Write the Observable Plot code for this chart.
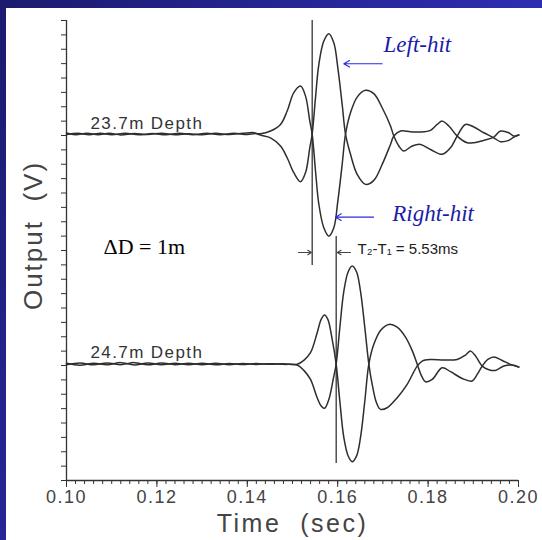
<!DOCTYPE html>
<html><head><meta charset="utf-8">
<script src="https://cdn.jsdelivr.net/npm/d3@7"></script>
<script src="https://cdn.jsdelivr.net/npm/@observablehq/plot@0.6"></script>
<style>
html,body{margin:0;padding:0;}
body{width:542px;height:540px;background:linear-gradient(120deg,#1b1b6e 0%,#2828a0 45%,#3838d4 100%);position:relative;overflow:hidden;}
#panel{position:absolute;left:6px;top:8px;width:536px;height:532px;background:#fff;}
</style></head><body><div id="panel"></div>
<script>
// ---- data (time in s, amplitude about each trace's baseline) ----
const traceNames = ["23.7m Depth", "24.7m Depth"];
const traceBaseline = [24.1, 8.1];

const upperLeftHit = [[0.1000,0.08],[0.1020,-0.05],[0.1045,0.06],[0.1070,-0.04],[0.1095,0.05],[0.1120,-0.06],[0.1150,0.04],[0.1180,-0.03],[0.1210,0.06],[0.1240,-0.04],[0.1270,0.03],[0.1300,-0.05],[0.1330,0.05],[0.1360,-0.03],[0.1390,0.05],[0.1415,0.1],
 [0.14292,-0.07],[0.14513,-0.26],[0.14735,-0.83],[0.14882,-1.65],[0.15029,-2.69],[0.15177,-3.32],[0.15288,-2.69],[0.15383,-0.95],[0.15435,0],[0.15509,2.53],[0.15583,4.85],[0.15693,6.47],[0.15804,6.98],[0.15914,6.35],[0.16003,4.61],[0.16099,2.06],[0.16173,0],[0.16283,-1.41],[0.16431,-2.81],[0.16615,-3.50],[0.16799,-3.22],[0.16984,-2.11],[0.17168,-0.72],[0.17242,-0.14],[0.17389,0.21],[0.17611,0.16],[0.17832,0.14],[0.18053,0.26],[0.18201,0.67],[0.18311,0.90],[0.18459,0.56],[0.18643,-0.14],[0.18864,-0.60],[0.19012,-0.60],[0.19233,-0.44],[0.19454,-0.21],[0.19602,0.21],[0.19786,0.09],[0.19897,-0.14],[0.20007,-0.07]];
const upperRightHit = [[0.1000,-0.04],[0.1025,0.06],[0.1050,-0.05],[0.1075,0.05],[0.1100,-0.04],[0.1130,0.06],[0.1160,-0.05],[0.1190,0.04],[0.1220,-0.05],[0.1250,0.05],[0.1280,-0.04],[0.1310,0.05],[0.1340,-0.04],[0.1370,0.05],[0.1400,-0.03],[0.1415,0.03],
 [0.14292,0.02],[0.14513,0.21],[0.14735,0.67],[0.14882,1.60],[0.15029,2.88],[0.15177,3.34],[0.15288,2.64],[0.15383,0.90],[0.15435,0],[0.15509,-2.57],[0.15583,-4.89],[0.15693,-6.52],[0.15804,-7.10],[0.15914,-6.52],[0.16003,-4.66],[0.16099,-2.11],[0.16173,0],[0.16283,1.48],[0.16431,2.57],[0.16615,3.04],[0.16799,2.81],[0.16984,1.83],[0.17168,0.56],[0.17242,-0.14],[0.17353,-0.83],[0.17463,-1.18],[0.17648,-0.83],[0.17832,-0.72],[0.18053,-1.07],[0.18311,-1.41],[0.18496,-0.95],[0.18643,-0.14],[0.18827,0.67],[0.19012,0.49],[0.19233,0.09],[0.19454,-0.26],[0.19602,-0.53],[0.19786,-0.44],[0.19897,-0.21],[0.20007,-0.07]];
const lowerA = [[0.1000,0.05],[0.1030,-0.08],[0.1060,0.06],[0.1090,-0.05],[0.1120,0.1],[0.1150,-0.06],[0.1180,0.08],[0.1210,-0.05],[0.1240,0.06],[0.1270,-0.04],[0.1300,0.05],[0.1330,-0.05],[0.1360,0.04],[0.1390,-0.03],[0.1420,0.04],[0.1450,-0.02],[0.1480,0.02],
 [0.15103,-0.02],[0.15251,0.26],[0.15398,0.79],[0.15546,2.18],[0.15634,3.11],[0.15708,3.41],[0.15782,3.11],[0.15878,1.72],[0.15966,0],[0.16047,-2.57],[0.16136,-5.12],[0.16232,-6.40],[0.16320,-6.79],[0.16416,-6.40],[0.16504,-5.12],[0.16600,-2.57],[0.16689,0],[0.16799,1.37],[0.16947,2.34],[0.17131,2.76],[0.17316,2.57],[0.17500,1.88],[0.17647,0.95],[0.17758,0],[0.17847,-0.77],[0.17943,-1.23],[0.18090,-1.07],[0.18311,-0.26],[0.18496,-0.53],[0.18754,-1.00],[0.18975,-1.18],[0.19086,-0.72],[0.19197,-0.14],[0.19322,0.32],[0.19454,0.49],[0.19639,0.25],[0.19823,-0.02],[0.20007,-0.21]];
const lowerB = [[0.1000,-0.05],[0.1030,0.07],[0.1060,-0.05],[0.1090,0.08],[0.1120,-0.04],[0.1150,0.1],[0.1180,-0.05],[0.1210,0.07],[0.1240,-0.04],[0.1270,0.05],[0.1300,-0.04],[0.1330,0.06],[0.1360,-0.04],[0.1390,0.04],[0.1420,-0.03],[0.1450,0.03],[0.1480,-0.02],
 [0.15103,-0.07],[0.15251,-0.44],[0.15398,-1.07],[0.15546,-2.34],[0.15634,-2.92],[0.15708,-3.08],[0.15804,-2.46],[0.15900,-1.07],[0.15966,0],[0.16047,2.53],[0.16136,5.08],[0.16232,6.42],[0.16320,6.82],[0.16416,6.42],[0.16504,5.08],[0.16600,2.53],[0.16689,0],[0.16763,-1.41],[0.16858,-2.69],[0.16947,-3.15],[0.17094,-3.04],[0.17316,-2.34],[0.17537,-1.41],[0.17758,-0.14],[0.17869,0.21],[0.18053,0.32],[0.18348,0.28],[0.18643,0.32],[0.18828,0.63],[0.18938,0.90],[0.19049,0.56],[0.19197,-0.14],[0.19344,-0.39],[0.19491,-0.44],[0.19676,-0.14],[0.19860,-0.07],[0.20007,-0.21]];

const xMajorTicks = [0.10, 0.12, 0.14, 0.16, 0.18, 0.20];
const xTickLabels = ["0.10", "0.12", "0.14", "0.16", "0.18", "0.20"];
const yTickValues = d3.range(0, 33);
const xMinorTicks = d3.range(0, 51).map(i => 0.10 + i * 0.002);

// markers: T1 / T2 arrival lines
const arrivalLines = [{t: 0.15436, y1: 14.96, y2: 32}, {t: 0.15967, y1: 1.18, y2: 16.97}];
const gapArrows = [{x1: 0.15133, x2: 0.15420, y: 15.86}, {x1: 0.16283, x2: 0.15990, y: 15.86}];
const hitArrows = [{x1: 0.16984, x2: 0.16135, y: 28.99}, {x1: 0.16792, x2: 0.15951, y: 18.32}];
const hitLabels = [{t: 0.17013, y: 30.33, text: "Left-hit"}, {t: 0.17206, y: 18.57, text: "Right-hit"}];
const depthLabels = [{t: 0.10531, y: 24.8, text: traceNames[0]}, {t: 0.10531, y: 8.93, text: traceNames[1]}];
const gapLabel = [{t: 0.16438, y: 16.07, text: "T\u2082-T\u2081 = 5.53ms"}];
const deltaLabel = [{t: 0.10819, y: 16.28, text: "\u0394D = 1m"}];
const xTitle = "Time  (sec)";
const yTitle = "Output  (V)";

const rows = [];
[[upperLeftHit, 0, "uL"], [upperRightHit, 0, "uR"], [lowerA, 1, "lA"], [lowerB, 1, "lB"]].forEach(([arr, k, name]) => {
  arr.forEach(([t, a]) => rows.push({t, v: traceBaseline[k] + a, series: name}));
});

const ink = "#333";
const chart = Plot.plot({
  width: 536, height: 532,
  marginLeft: 60, marginRight: 24, marginTop: 12, marginBottom: 60,
  style: {background: "white", color: ink, fontFamily: "'Liberation Sans', Arial, sans-serif", overflow: "visible"},
  x: {domain: [0.10, 0.20]},
  y: {domain: [0, 32]},
  marks: [
    Plot.axisY({ticks: yTickValues, tickSize: 5, tickFormat: () => "", label: null, stroke: ink}),
    Plot.axisX({ticks: xMinorTicks, tickSize: 4, tickFormat: () => "", label: null, stroke: ink}),
    Plot.axisX({ticks: xMajorTicks, tickSize: 7, tickPadding: 3, tickFormat: (d, i) => xTickLabels[i], label: null, fontSize: 18, fill: "#444", stroke: ink}),
    Plot.ruleX([0.10], {stroke: ink, strokeWidth: 1.3}),
    Plot.ruleY([0], {stroke: ink, strokeWidth: 1.3}),
    Plot.ruleX(arrivalLines, {x: "t", y1: "y1", y2: "y2", stroke: "#444", strokeWidth: 1.4}),
    Plot.line(rows, {x: "t", y: "v", z: "series", curve: "catmull-rom", stroke: "#2e2e2e", strokeWidth: 1.5}),
    Plot.arrow(gapArrows, {x1: "x1", x2: "x2", y1: "y", y2: "y", stroke: "#444", strokeWidth: 1.1, headLength: 6}),
    Plot.arrow(hitArrows, {x1: "x1", x2: "x2", y1: "y", y2: "y", stroke: "#2a2ae0", strokeWidth: 1.1, headLength: 9}),
    Plot.text(hitLabels, {x: "t", y: "y", text: "text", textAnchor: "start", lineAnchor: "middle", fontFamily: "'Liberation Serif', 'Times New Roman', serif", fontStyle: "italic", fontSize: 23, fill: "#1c1ca6"}),
    Plot.text(depthLabels, {x: "t", y: "y", text: "text", textAnchor: "start", lineAnchor: "middle", fontSize: 17, fill: "#333"}),
    Plot.text(gapLabel, {x: "t", y: "y", text: "text", textAnchor: "start", lineAnchor: "middle", fontSize: 15, fill: "#222"}),
    Plot.text(deltaLabel, {x: "t", y: "y", text: "text", textAnchor: "start", lineAnchor: "middle", fontFamily: "'Liberation Serif', 'Times New Roman', serif", fontSize: 22, fill: "#000"}),
    Plot.text([xTitle], {frameAnchor: "bottom", textAnchor: "middle", dy: 43, lineAnchor: "middle", fontSize: 25, fill: "#444"}),
    Plot.text([yTitle], {frameAnchor: "left", textAnchor: "middle", dx: -33, dy: -15, rotate: -90, lineAnchor: "middle", fontSize: 26, fill: "#444"})
  ]
});
// letter spacing to mimic the wide scanned lettering
const spacing = new Map([[traceNames[0], "1.4px"], [traceNames[1], "1.4px"], [xTitle, "2.5px"], [yTitle, "2px"]]);
xTickLabels.forEach(s => spacing.set(s, "1.5px"));
d3.select(chart).selectAll("text").each(function() {
  const s = spacing.get(this.textContent);
  if (s) this.setAttribute("letter-spacing", s);
});
document.getElementById("panel").appendChild(chart);
</script>
</body></html>
